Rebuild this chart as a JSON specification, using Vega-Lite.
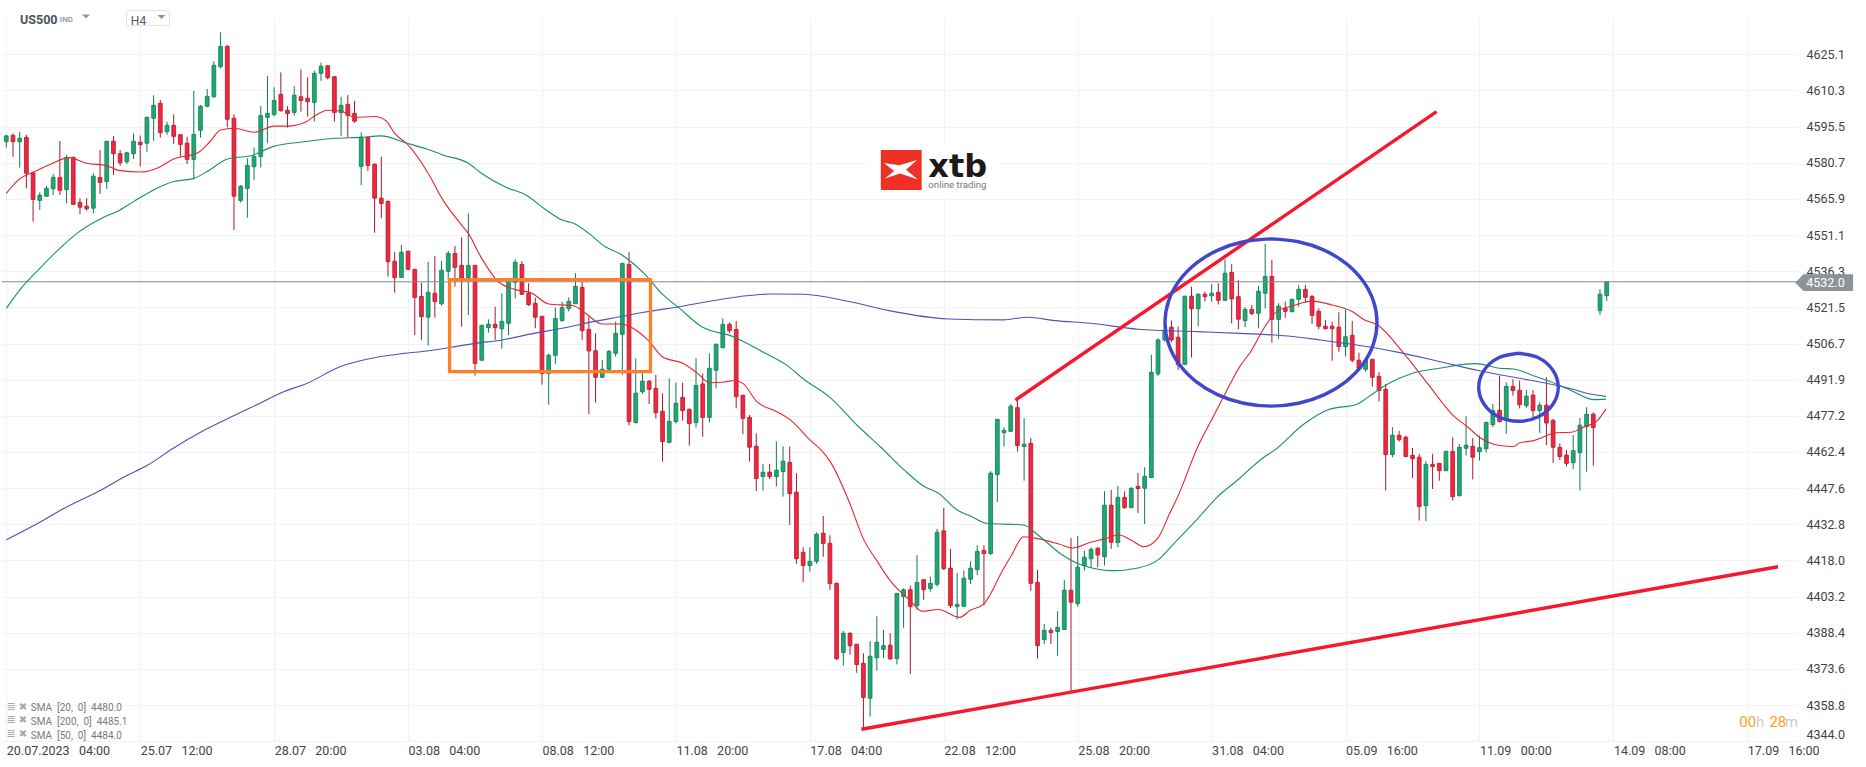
{
  "$schema": "https://vega.github.io/schema/vega-lite/v6.json",
  "width": 1796,
  "height": 723,
  "autosize": "none",
  "padding": {"left": 2, "top": 18, "right": 68, "bottom": 26},
  "background": "#ffffff",
  "config": {"font": "Roboto", "view": {"stroke": null}},
  "datasets": {
    "candles": [
      {"i":0,"o":4589.3,"h":4592.1,"l":4586.9,"c":4591.7},{"i":1,"o":4591.9,"h":4592.7,"l":4583.2,"c":4589.3},{"i":2,"o":4589.3,"h":4593.3,"l":4578.7,"c":4590.7},{"i":3,"o":4591.1,"h":4592.1,"l":4570.2,"c":4576.4},
      {"i":4,"o":4576.5,"h":4577.1,"l":4556.6,"c":4565.7},{"i":5,"o":4565.3,"h":4568.6,"l":4561.4,"c":4567.4},{"i":6,"o":4567.0,"h":4571.2,"l":4566.8,"c":4570.2},{"i":7,"o":4570.1,"h":4576.1,"l":4567.5,"c":4574.7},
      {"i":8,"o":4574.7,"h":4589.6,"l":4567.5,"c":4569.4},{"i":9,"o":4569.7,"h":4583.9,"l":4564.1,"c":4582.9},{"i":10,"o":4582.9,"h":4583.2,"l":4563.4,"c":4563.7},{"i":11,"o":4564.5,"h":4566.2,"l":4559.7,"c":4562.5},
      {"i":12,"o":4562.9,"h":4566.2,"l":4561.1,"c":4561.9},{"i":13,"o":4562.1,"h":4576.4,"l":4560.0,"c":4575.2},{"i":14,"o":4574.7,"h":4585.9,"l":4567.9,"c":4572.7},{"i":15,"o":4573.0,"h":4589.6,"l":4570.0,"c":4589.5},
      {"i":16,"o":4589.5,"h":4591.7,"l":4575.7,"c":4584.4},{"i":17,"o":4584.4,"h":4585.9,"l":4579.4,"c":4580.7},{"i":18,"o":4581.1,"h":4585.2,"l":4580.2,"c":4584.8},{"i":19,"o":4584.4,"h":4592.7,"l":4582.2,"c":4589.5},
      {"i":20,"o":4589.1,"h":4591.8,"l":4579.1,"c":4588.1},{"i":21,"o":4588.7,"h":4599.6,"l":4585.2,"c":4599.3},{"i":22,"o":4598.9,"h":4608.3,"l":4589.7,"c":4604.2},{"i":23,"o":4605.0,"h":4606.4,"l":4591.0,"c":4593.0},
      {"i":24,"o":4593.4,"h":4597.5,"l":4592.1,"c":4596.0},{"i":25,"o":4596.0,"h":4600.5,"l":4588.4,"c":4591.5},{"i":26,"o":4592.2,"h":4592.3,"l":4583.2,"c":4588.2},{"i":27,"o":4588.7,"h":4591.4,"l":4580.2,"c":4582.1},
      {"i":28,"o":4582.1,"h":4610.1,"l":4573.9,"c":4592.3},{"i":29,"o":4594.0,"h":4604.3,"l":4591.0,"c":4603.8},{"i":30,"o":4603.8,"h":4610.9,"l":4603.4,"c":4607.9},{"i":31,"o":4607.7,"h":4622.3,"l":4607.3,"c":4620.6},
      {"i":32,"o":4620.0,"h":4634.1,"l":4619.3,"c":4628.3},{"i":33,"o":4628.3,"h":4628.9,"l":4595.2,"c":4598.5},{"i":34,"o":4598.9,"h":4600.5,"l":4553.2,"c":4567.0},{"i":35,"o":4565.3,"h":4571.6,"l":4564.4,"c":4571.1},
      {"i":36,"o":4570.2,"h":4582.5,"l":4558.2,"c":4579.6},{"i":37,"o":4579.1,"h":4586.9,"l":4573.6,"c":4583.3},{"i":38,"o":4583.3,"h":4603.9,"l":4578.7,"c":4600.0},{"i":39,"o":4599.3,"h":4616.2,"l":4588.7,"c":4600.9},
      {"i":40,"o":4600.4,"h":4611.6,"l":4599.6,"c":4606.2},{"i":41,"o":4608.7,"h":4617.7,"l":4601.6,"c":4602.0},{"i":42,"o":4602.2,"h":4603.9,"l":4595.1,"c":4600.8},{"i":43,"o":4601.3,"h":4612.1,"l":4600.0,"c":4608.3},
      {"i":44,"o":4607.7,"h":4618.9,"l":4601.6,"c":4606.2},{"i":45,"o":4607.1,"h":4615.7,"l":4599.6,"c":4605.7},{"i":46,"o":4605.4,"h":4618.4,"l":4597.5,"c":4617.3},{"i":47,"o":4617.3,"h":4621.7,"l":4614.2,"c":4620.2},
      {"i":48,"o":4620.4,"h":4620.6,"l":4614.8,"c":4615.5},{"i":49,"o":4615.9,"h":4616.2,"l":4597.5,"c":4601.3},{"i":50,"o":4601.2,"h":4607.7,"l":4591.7,"c":4604.2},{"i":51,"o":4604.6,"h":4608.4,"l":4591.0,"c":4600.1},
      {"i":52,"o":4600.9,"h":4606.0,"l":4597.1,"c":4597.7},{"i":53,"o":4579.2,"h":4593.2,"l":4571.6,"c":4591.2},{"i":54,"o":4591.1,"h":4591.4,"l":4577.3,"c":4579.6},{"i":55,"o":4580.1,"h":4580.5,"l":4552.1,"c":4566.2},
      {"i":56,"o":4566.2,"h":4583.2,"l":4558.0,"c":4564.0},{"i":57,"o":4564.9,"h":4565.3,"l":4534.1,"c":4540.2},{"i":58,"o":4540.4,"h":4544.3,"l":4527.5,"c":4533.7},{"i":59,"o":4533.8,"h":4547.1,"l":4533.7,"c":4544.1},
      {"i":60,"o":4544.5,"h":4544.7,"l":4536.8,"c":4537.1},{"i":61,"o":4537.0,"h":4537.5,"l":4510.2,"c":4525.6},{"i":62,"o":4526.0,"h":4531.6,"l":4508.2,"c":4517.7},{"i":63,"o":4517.5,"h":4540.2,"l":4505.9,"c":4527.7},
      {"i":64,"o":4527.3,"h":4542.5,"l":4517.3,"c":4523.9},{"i":65,"o":4523.0,"h":4540.5,"l":4522.2,"c":4536.7},{"i":66,"o":4536.3,"h":4544.6,"l":4532.7,"c":4543.6},{"i":67,"o":4543.6,"h":4546.6,"l":4530.0,"c":4537.9},
      {"i":68,"o":4538.7,"h":4550.2,"l":4513.6,"c":4533.4},{"i":69,"o":4533.7,"h":4560.0,"l":4518.4,"c":4538.7},{"i":70,"o":4538.7,"h":4539.0,"l":4493.6,"c":4498.6},{"i":71,"o":4499.9,"h":4514.3,"l":4499.7,"c":4514.2},
      {"i":72,"o":4513.2,"h":4516.6,"l":4511.2,"c":4514.6},{"i":73,"o":4514.6,"h":4521.8,"l":4508.2,"c":4513.2},{"i":74,"o":4512.8,"h":4527.3,"l":4504.6,"c":4515.8},{"i":75,"o":4515.0,"h":4532.0,"l":4510.2,"c":4532.0},
      {"i":76,"o":4531.8,"h":4541.3,"l":4525.2,"c":4540.0},{"i":77,"o":4539.1,"h":4540.5,"l":4526.6,"c":4526.9},{"i":78,"o":4527.3,"h":4531.4,"l":4522.1,"c":4522.6},{"i":79,"o":4523.2,"h":4525.5,"l":4513.0,"c":4517.5},
      {"i":80,"o":4517.9,"h":4518.0,"l":4489.9,"c":4494.5},{"i":81,"o":4494.5,"h":4502.7,"l":4481.7,"c":4501.9},{"i":82,"o":4501.9,"h":4521.5,"l":4498.4,"c":4517.0},{"i":83,"o":4516.1,"h":4523.9,"l":4515.7,"c":4521.4},
      {"i":84,"o":4521.0,"h":4525.6,"l":4519.8,"c":4524.0},{"i":85,"o":4523.0,"h":4535.5,"l":4522.9,"c":4530.1},{"i":86,"o":4529.7,"h":4532.0,"l":4508.2,"c":4512.0},{"i":87,"o":4512.5,"h":4517.7,"l":4477.9,"c":4503.7},
      {"i":88,"o":4503.8,"h":4510.9,"l":4482.5,"c":4492.9},{"i":89,"o":4492.9,"h":4500.0,"l":4492.8,"c":4496.2},{"i":90,"o":4496.2,"h":4504.1,"l":4495.9,"c":4503.5},{"i":91,"o":4502.7,"h":4515.7,"l":4501.4,"c":4510.9},
      {"i":92,"o":4510.5,"h":4539.8,"l":4493.9,"c":4539.5},{"i":93,"o":4539.1,"h":4544.1,"l":4473.2,"c":4474.8},{"i":94,"o":4474.4,"h":4500.7,"l":4474.0,"c":4486.4},{"i":95,"o":4487.0,"h":4495.2,"l":4486.1,"c":4491.3},
      {"i":96,"o":4491.3,"h":4491.8,"l":4482.0,"c":4488.0},{"i":97,"o":4488.4,"h":4493.9,"l":4476.1,"c":4478.4},{"i":98,"o":4479.0,"h":4486.4,"l":4458.4,"c":4466.6},{"i":99,"o":4466.3,"h":4492.5,"l":4465.9,"c":4474.9},
      {"i":100,"o":4474.8,"h":4490.7,"l":4474.0,"c":4482.3},{"i":101,"o":4484.7,"h":4490.7,"l":4475.2,"c":4479.3},{"i":102,"o":4479.8,"h":4480.2,"l":4465.0,"c":4474.0},{"i":103,"o":4474.4,"h":4500.7,"l":4472.3,"c":4489.6},
      {"i":104,"o":4490.2,"h":4494.5,"l":4468.6,"c":4476.5},{"i":105,"o":4476.5,"h":4502.7,"l":4474.4,"c":4496.6},{"i":106,"o":4495.8,"h":4506.8,"l":4488.4,"c":4506.4},{"i":107,"o":4505.0,"h":4517.0,"l":4504.8,"c":4514.6},
      {"i":108,"o":4514.6,"h":4515.3,"l":4510.9,"c":4512.0},{"i":109,"o":4512.5,"h":4516.0,"l":4480.2,"c":4485.0},{"i":110,"o":4485.6,"h":4485.7,"l":4469.6,"c":4476.1},{"i":111,"o":4476.5,"h":4477.5,"l":4458.4,"c":4464.3},
      {"i":112,"o":4464.7,"h":4470.0,"l":4446.4,"c":4451.5},{"i":113,"o":4452.3,"h":4457.5,"l":4446.6,"c":4454.1},{"i":114,"o":4454.1,"h":4457.5,"l":4451.3,"c":4452.3},{"i":115,"o":4452.3,"h":4466.7,"l":4448.2,"c":4454.9},
      {"i":116,"o":4454.3,"h":4464.7,"l":4444.1,"c":4458.6},{"i":117,"o":4458.1,"h":4464.7,"l":4432.5,"c":4445.3},{"i":118,"o":4445.9,"h":4453.7,"l":4416.6,"c":4418.7},{"i":119,"o":4421.3,"h":4423.4,"l":4409.2,"c":4415.9},
      {"i":120,"o":4415.9,"h":4423.4,"l":4413.4,"c":4417.6},{"i":121,"o":4417.6,"h":4429.5,"l":4416.6,"c":4428.7},{"i":122,"o":4429.1,"h":4436.2,"l":4419.5,"c":4424.9},{"i":123,"o":4425.0,"h":4428.3,"l":4405.9,"c":4408.5},
      {"i":124,"o":4408.6,"h":4409.0,"l":4377.3,"c":4377.7},{"i":125,"o":4380.3,"h":4389.1,"l":4375.0,"c":4388.2},{"i":126,"o":4388.2,"h":4388.6,"l":4379.4,"c":4383.1},{"i":127,"o":4383.7,"h":4383.8,"l":4372.0,"c":4375.4},
      {"i":128,"o":4375.9,"h":4380.0,"l":4349.7,"c":4361.9},{"i":129,"o":4361.6,"h":4385.0,"l":4354.1,"c":4378.8},{"i":130,"o":4378.2,"h":4395.1,"l":4372.9,"c":4384.5},{"i":131,"o":4381.6,"h":4389.5,"l":4378.1,"c":4383.1},
      {"i":132,"o":4383.3,"h":4388.2,"l":4377.4,"c":4377.7},{"i":133,"o":4377.8,"h":4404.7,"l":4375.4,"c":4404.5},{"i":134,"o":4403.2,"h":4406.6,"l":4390.4,"c":4406.0},{"i":135,"o":4406.0,"h":4407.7,"l":4371.5,"c":4399.1},
      {"i":136,"o":4399.5,"h":4420.2,"l":4397.7,"c":4409.0},{"i":137,"o":4410.1,"h":4410.3,"l":4401.8,"c":4406.0},{"i":138,"o":4406.5,"h":4411.4,"l":4405.2,"c":4408.6},{"i":139,"o":4408.2,"h":4430.9,"l":4407.3,"c":4429.5},
      {"i":140,"o":4430.1,"h":4439.5,"l":4414.1,"c":4414.6},{"i":141,"o":4414.8,"h":4422.7,"l":4398.5,"c":4399.5},{"i":142,"o":4399.1,"h":4412.9,"l":4393.8,"c":4400.0},{"i":143,"o":4399.2,"h":4413.8,"l":4399.1,"c":4410.7},
      {"i":144,"o":4410.3,"h":4417.6,"l":4408.4,"c":4414.8},{"i":145,"o":4414.2,"h":4424.2,"l":4412.0,"c":4421.6},{"i":146,"o":4422.1,"h":4424.2,"l":4399.5,"c":4420.8},{"i":147,"o":4420.8,"h":4454.5,"l":4420.2,"c":4453.7},
      {"i":148,"o":4453.1,"h":4475.9,"l":4441.9,"c":4475.7},{"i":149,"o":4470.3,"h":4472.5,"l":4464.6,"c":4471.2},{"i":150,"o":4470.8,"h":4482.0,"l":4470.7,"c":4481.1},{"i":151,"o":4480.5,"h":4483.8,"l":4462.5,"c":4465.0},
      {"i":152,"o":4464.6,"h":4476.2,"l":4450.6,"c":4465.5},{"i":153,"o":4465.9,"h":4468.1,"l":4405.6,"c":4408.6},{"i":154,"o":4409.0,"h":4414.1,"l":4377.8,"c":4383.1},{"i":155,"o":4385.6,"h":4392.0,"l":4383.8,"c":4389.4},
      {"i":156,"o":4389.4,"h":4390.4,"l":4383.8,"c":4388.5},{"i":157,"o":4388.9,"h":4397.2,"l":4379.0,"c":4390.6},{"i":158,"o":4389.7,"h":4410.0,"l":4389.5,"c":4405.8},{"i":159,"o":4405.8,"h":4427.2,"l":4364.0,"c":4400.9},
      {"i":160,"o":4400.3,"h":4427.9,"l":4399.1,"c":4415.2},{"i":161,"o":4415.9,"h":4422.0,"l":4413.8,"c":4419.3},{"i":162,"o":4418.7,"h":4423.4,"l":4414.9,"c":4422.5},{"i":163,"o":4423.0,"h":4423.4,"l":4415.2,"c":4420.2},
      {"i":164,"o":4419.5,"h":4446.3,"l":4415.9,"c":4440.6},{"i":165,"o":4440.6,"h":4446.8,"l":4422.7,"c":4425.4},{"i":166,"o":4425.3,"h":4448.5,"l":4423.4,"c":4443.8},{"i":167,"o":4443.8,"h":4446.3,"l":4439.1,"c":4439.6},
      {"i":168,"o":4439.6,"h":4447.9,"l":4439.3,"c":4447.5},{"i":169,"o":4448.3,"h":4453.8,"l":4437.4,"c":4447.4},{"i":170,"o":4447.5,"h":4456.1,"l":4432.9,"c":4452.4},{"i":171,"o":4451.9,"h":4502.1,"l":4451.7,"c":4495.0},
      {"i":172,"o":4494.3,"h":4508.9,"l":4493.5,"c":4508.2},{"i":173,"o":4508.2,"h":4513.7,"l":4507.5,"c":4512.3},{"i":174,"o":4513.4,"h":4516.1,"l":4507.2,"c":4508.2},{"i":175,"o":4509.3,"h":4513.7,"l":4495.9,"c":4498.0},
      {"i":176,"o":4498.2,"h":4526.3,"l":4498.0,"c":4526.1},{"i":177,"o":4526.1,"h":4530.0,"l":4501.0,"c":4521.0},{"i":178,"o":4521.0,"h":4527.3,"l":4513.7,"c":4526.9},{"i":179,"o":4526.9,"h":4528.0,"l":4523.9,"c":4525.9},
      {"i":180,"o":4526.3,"h":4531.0,"l":4523.9,"c":4527.3},{"i":181,"o":4527.7,"h":4531.4,"l":4522.7,"c":4524.4},{"i":182,"o":4524.4,"h":4541.2,"l":4524.2,"c":4535.5},{"i":183,"o":4535.8,"h":4539.2,"l":4515.0,"c":4525.0},
      {"i":184,"o":4525.9,"h":4532.8,"l":4512.6,"c":4516.7},{"i":185,"o":4516.1,"h":4521.5,"l":4513.4,"c":4520.7},{"i":186,"o":4520.7,"h":4522.5,"l":4518.4,"c":4519.0},{"i":187,"o":4519.1,"h":4530.3,"l":4513.0,"c":4528.1},
      {"i":188,"o":4527.3,"h":4547.5,"l":4521.1,"c":4534.2},{"i":189,"o":4534.2,"h":4540.9,"l":4507.1,"c":4516.6},{"i":190,"o":4516.6,"h":4523.2,"l":4508.7,"c":4522.0},{"i":191,"o":4521.1,"h":4523.9,"l":4517.3,"c":4519.9},
      {"i":192,"o":4519.8,"h":4525.2,"l":4519.4,"c":4524.8},{"i":193,"o":4524.8,"h":4530.7,"l":4521.8,"c":4528.9},{"i":194,"o":4528.9,"h":4530.7,"l":4523.5,"c":4525.6},{"i":195,"o":4526.0,"h":4526.6,"l":4514.7,"c":4518.3},
      {"i":196,"o":4519.9,"h":4521.1,"l":4512.5,"c":4513.8},{"i":197,"o":4513.8,"h":4516.4,"l":4512.5,"c":4512.8},{"i":198,"o":4513.8,"h":4515.7,"l":4499.7,"c":4512.8},{"i":199,"o":4513.4,"h":4519.5,"l":4503.4,"c":4505.5},
      {"i":200,"o":4505.5,"h":4520.5,"l":4501.4,"c":4509.5},{"i":201,"o":4510.1,"h":4516.0,"l":4499.0,"c":4499.9},{"i":202,"o":4499.9,"h":4503.0,"l":4495.9,"c":4496.6},{"i":203,"o":4496.2,"h":4500.7,"l":4495.2,"c":4499.9},
      {"i":204,"o":4500.3,"h":4500.3,"l":4489.1,"c":4492.9},{"i":205,"o":4493.3,"h":4495.0,"l":4483.0,"c":4487.5},{"i":206,"o":4488.0,"h":4490.2,"l":4446.6,"c":4461.3},{"i":207,"o":4461.3,"h":4472.5,"l":4460.2,"c":4469.2},
      {"i":208,"o":4469.2,"h":4471.0,"l":4466.6,"c":4467.4},{"i":209,"o":4468.4,"h":4469.1,"l":4460.2,"c":4460.5},{"i":210,"o":4461.0,"h":4464.0,"l":4451.7,"c":4459.6},{"i":211,"o":4460.2,"h":4461.6,"l":4434.3,"c":4440.0},
      {"i":212,"o":4440.4,"h":4458.6,"l":4434.0,"c":4457.3},{"i":213,"o":4457.3,"h":4461.6,"l":4447.2,"c":4456.4},{"i":214,"o":4457.7,"h":4457.7,"l":4450.6,"c":4454.7},{"i":215,"o":4454.7,"h":4462.9,"l":4454.5,"c":4462.6},
      {"i":216,"o":4462.6,"h":4468.4,"l":4442.5,"c":4444.1},{"i":217,"o":4444.5,"h":4465.6,"l":4444.1,"c":4464.3},{"i":218,"o":4463.9,"h":4477.0,"l":4460.9,"c":4465.1},{"i":219,"o":4464.7,"h":4468.1,"l":4451.1,"c":4460.2},
      {"i":220,"o":4462.5,"h":4469.1,"l":4458.8,"c":4464.1},{"i":221,"o":4463.7,"h":4474.5,"l":4462.2,"c":4474.5},{"i":222,"o":4473.6,"h":4482.0,"l":4472.5,"c":4479.3},{"i":223,"o":4479.4,"h":4493.5,"l":4474.5,"c":4474.8},
      {"i":224,"o":4475.5,"h":4490.9,"l":4469.7,"c":4489.2},{"i":225,"o":4489.2,"h":4492.1,"l":4485.4,"c":4487.5},{"i":226,"o":4487.6,"h":4491.6,"l":4480.2,"c":4481.7},{"i":227,"o":4481.3,"h":4487.7,"l":4480.4,"c":4485.2},
      {"i":228,"o":4485.6,"h":4487.7,"l":4475.9,"c":4479.3},{"i":229,"o":4479.3,"h":4482.7,"l":4470.2,"c":4481.5},{"i":230,"o":4481.5,"h":4492.9,"l":4465.2,"c":4474.2},{"i":231,"o":4475.3,"h":4475.9,"l":4457.9,"c":4464.3},
      {"i":232,"o":4464.3,"h":4465.9,"l":4459.1,"c":4460.5},{"i":233,"o":4461.1,"h":4463.2,"l":4456.4,"c":4457.7},{"i":234,"o":4458.0,"h":4469.3,"l":4455.4,"c":4462.9},{"i":235,"o":4462.1,"h":4476.3,"l":4446.6,"c":4473.3},
      {"i":236,"o":4472.7,"h":4480.7,"l":4454.3,"c":4477.8},{"i":237,"o":4477.8,"h":4478.6,"l":4456.8,"c":4472.3},{"i":238,"o":4520.2,"h":4528.9,"l":4518.4,"c":4526.9},{"i":239,"o":4526.3,"h":4532.3,"l":4524.1,"c":4532.0}
    ],
    "sma": [
      {"s":"SMA 20","i":0,"v":4568.2},{"s":"SMA 20","i":2,"v":4574.1},{"s":"SMA 20","i":4,"v":4576.8},{"s":"SMA 20","i":6.7,"v":4580.2},{"s":"SMA 20","i":9.4,"v":4582.8},{"s":"SMA 20","i":12,"v":4580.5},{"s":"SMA 20","i":15,"v":4579.5},{"s":"SMA 20","i":16.8,"v":4577.6},{"s":"SMA 20","i":20,"v":4576.9},{"s":"SMA 20","i":22.7,"v":4578.7},{"s":"SMA 20","i":25,"v":4582.2},{"s":"SMA 20","i":28.6,"v":4584.8},{"s":"SMA 20","i":30.4,"v":4589.3},{"s":"SMA 20","i":32,"v":4594.1},{"s":"SMA 20","i":34,"v":4594.8},{"s":"SMA 20","i":37,"v":4593.2},{"s":"SMA 20","i":40,"v":4595.7},{"s":"SMA 20","i":42,"v":4595.7},{"s":"SMA 20","i":44.8,"v":4597.5},{"s":"SMA 20","i":46,"v":4599.8},{"s":"SMA 20","i":48,"v":4602.2},{"s":"SMA 20","i":50,"v":4601.9},{"s":"SMA 20","i":52,"v":4599.3},{"s":"SMA 20","i":55,"v":4599.6},{"s":"SMA 20","i":56.7,"v":4597.9},{"s":"SMA 20","i":58,"v":4592.7},{"s":"SMA 20","i":60,"v":4588.0},{"s":"SMA 20","i":63,"v":4576.4},{"s":"SMA 20","i":65.2,"v":4565.5},{"s":"SMA 20","i":68,"v":4555.2},{"s":"SMA 20","i":69,"v":4551.8},{"s":"SMA 20","i":70.8,"v":4542.5},{"s":"SMA 20","i":73.5,"v":4532.0},{"s":"SMA 20","i":75.8,"v":4529.0},{"s":"SMA 20","i":78.5,"v":4527.3},{"s":"SMA 20","i":81,"v":4522.9},{"s":"SMA 20","i":84.7,"v":4522.2},{"s":"SMA 20","i":86.5,"v":4519.1},{"s":"SMA 20","i":89,"v":4514.7},{"s":"SMA 20","i":91.7,"v":4514.7},{"s":"SMA 20","i":94,"v":4512.3},{"s":"SMA 20","i":95.8,"v":4508.2},{"s":"SMA 20","i":98.1,"v":4501.1},{"s":"SMA 20","i":101.1,"v":4498.6},{"s":"SMA 20","i":103.2,"v":4494.6},{"s":"SMA 20","i":105,"v":4490.7},{"s":"SMA 20","i":107,"v":4490.9},{"s":"SMA 20","i":108.8,"v":4491.6},{"s":"SMA 20","i":110.1,"v":4490.2},{"s":"SMA 20","i":112,"v":4483.2},{"s":"SMA 20","i":115,"v":4478.9},{"s":"SMA 20","i":117,"v":4475.7},{"s":"SMA 20","i":120,"v":4467.3},{"s":"SMA 20","i":121.9,"v":4462.5},{"s":"SMA 20","i":123,"v":4458.6},{"s":"SMA 20","i":125.9,"v":4441.8},{"s":"SMA 20","i":128,"v":4426.8},{"s":"SMA 20","i":130,"v":4417.9},{"s":"SMA 20","i":132,"v":4409.7},{"s":"SMA 20","i":135,"v":4401.5},{"s":"SMA 20","i":136.8,"v":4397.2},{"s":"SMA 20","i":139.2,"v":4397.9},{"s":"SMA 20","i":142.4,"v":4394.7},{"s":"SMA 20","i":143.9,"v":4397.5},{"s":"SMA 20","i":146,"v":4400.2},{"s":"SMA 20","i":148.9,"v":4414.5},{"s":"SMA 20","i":150.1,"v":4420.0},{"s":"SMA 20","i":151.9,"v":4427.7},{"s":"SMA 20","i":154.2,"v":4426.8},{"s":"SMA 20","i":157.2,"v":4424.7},{"s":"SMA 20","i":159.3,"v":4423.1},{"s":"SMA 20","i":161.9,"v":4425.4},{"s":"SMA 20","i":164,"v":4426.8},{"s":"SMA 20","i":166.2,"v":4428.4},{"s":"SMA 20","i":168.1,"v":4426.1},{"s":"SMA 20","i":169.9,"v":4423.6},{"s":"SMA 20","i":172,"v":4427.2},{"s":"SMA 20","i":173.7,"v":4437.0},{"s":"SMA 20","i":174.9,"v":4443.8},{"s":"SMA 20","i":177.9,"v":4464.3},{"s":"SMA 20","i":180.2,"v":4476.6},{"s":"SMA 20","i":182,"v":4486.1},{"s":"SMA 20","i":184.2,"v":4497.3},{"s":"SMA 20","i":186,"v":4504.1},{"s":"SMA 20","i":187.8,"v":4513.0},{"s":"SMA 20","i":189.9,"v":4520.2},{"s":"SMA 20","i":192,"v":4522.1},{"s":"SMA 20","i":195,"v":4524.1},{"s":"SMA 20","i":198,"v":4522.5},{"s":"SMA 20","i":201,"v":4519.8},{"s":"SMA 20","i":202.7,"v":4516.6},{"s":"SMA 20","i":204.8,"v":4514.3},{"s":"SMA 20","i":208.7,"v":4502.7},{"s":"SMA 20","i":212.3,"v":4490.2},{"s":"SMA 20","i":214.6,"v":4482.0},{"s":"SMA 20","i":216.1,"v":4477.2},{"s":"SMA 20","i":218.2,"v":4472.7},{"s":"SMA 20","i":220,"v":4468.4},{"s":"SMA 20","i":223,"v":4465.0},{"s":"SMA 20","i":225.1,"v":4464.6},{"s":"SMA 20","i":226,"v":4466.1},{"s":"SMA 20","i":228.1,"v":4467.0},{"s":"SMA 20","i":230.1,"v":4469.1},{"s":"SMA 20","i":231.3,"v":4470.2},{"s":"SMA 20","i":233.7,"v":4470.4},{"s":"SMA 20","i":235.5,"v":4472.5},{"s":"SMA 20","i":237.6,"v":4475.2},{"s":"SMA 20","i":238.9,"v":4480.0},
      {"s":"SMA 50","i":0,"v":4521.1},{"s":"SMA 50","i":2,"v":4528.6},{"s":"SMA 50","i":5,"v":4537.5},{"s":"SMA 50","i":8,"v":4545.7},{"s":"SMA 50","i":10.9,"v":4552.5},{"s":"SMA 50","i":14.7,"v":4558.6},{"s":"SMA 50","i":16.8,"v":4561.1},{"s":"SMA 50","i":19,"v":4564.8},{"s":"SMA 50","i":22,"v":4569.6},{"s":"SMA 50","i":25,"v":4573.0},{"s":"SMA 50","i":28,"v":4574.3},{"s":"SMA 50","i":30,"v":4577.1},{"s":"SMA 50","i":33,"v":4582.2},{"s":"SMA 50","i":36.9,"v":4583.9},{"s":"SMA 50","i":39.8,"v":4587.3},{"s":"SMA 50","i":44.5,"v":4589.3},{"s":"SMA 50","i":49,"v":4590.7},{"s":"SMA 50","i":52.8,"v":4591.1},{"s":"SMA 50","i":56,"v":4591.7},{"s":"SMA 50","i":59.6,"v":4588.9},{"s":"SMA 50","i":62.8,"v":4586.3},{"s":"SMA 50","i":65.2,"v":4583.9},{"s":"SMA 50","i":69,"v":4580.5},{"s":"SMA 50","i":70.8,"v":4576.7},{"s":"SMA 50","i":74.7,"v":4570.6},{"s":"SMA 50","i":77.6,"v":4567.5},{"s":"SMA 50","i":80.6,"v":4561.4},{"s":"SMA 50","i":83,"v":4557.3},{"s":"SMA 50","i":84.7,"v":4555.9},{"s":"SMA 50","i":87,"v":4551.8},{"s":"SMA 50","i":89.4,"v":4546.4},{"s":"SMA 50","i":91.7,"v":4543.4},{"s":"SMA 50","i":95.2,"v":4535.5},{"s":"SMA 50","i":98.1,"v":4526.6},{"s":"SMA 50","i":100.5,"v":4521.2},{"s":"SMA 50","i":103.8,"v":4513.7},{"s":"SMA 50","i":108.5,"v":4509.6},{"s":"SMA 50","i":112.9,"v":4503.4},{"s":"SMA 50","i":116.7,"v":4497.6},{"s":"SMA 50","i":119.1,"v":4492.1},{"s":"SMA 50","i":123,"v":4484.7},{"s":"SMA 50","i":127.1,"v":4473.2},{"s":"SMA 50","i":130.6,"v":4464.3},{"s":"SMA 50","i":134.2,"v":4454.7},{"s":"SMA 50","i":137.1,"v":4448.2},{"s":"SMA 50","i":139.2,"v":4445.5},{"s":"SMA 50","i":142,"v":4438.6},{"s":"SMA 50","i":144.2,"v":4435.9},{"s":"SMA 50","i":146.3,"v":4433.2},{"s":"SMA 50","i":151.9,"v":4432.5},{"s":"SMA 50","i":154.2,"v":4428.1},{"s":"SMA 50","i":157.5,"v":4420.6},{"s":"SMA 50","i":160.1,"v":4416.6},{"s":"SMA 50","i":165.2,"v":4413.8},{"s":"SMA 50","i":169,"v":4414.9},{"s":"SMA 50","i":172,"v":4418.2},{"s":"SMA 50","i":174.3,"v":4424.7},{"s":"SMA 50","i":177.9,"v":4435.0},{"s":"SMA 50","i":180.8,"v":4443.8},{"s":"SMA 50","i":184.2,"v":4451.6},{"s":"SMA 50","i":186,"v":4456.1},{"s":"SMA 50","i":187.8,"v":4460.2},{"s":"SMA 50","i":189.3,"v":4462.9},{"s":"SMA 50","i":193.8,"v":4473.8},{"s":"SMA 50","i":197.4,"v":4479.6},{"s":"SMA 50","i":201.8,"v":4482.0},{"s":"SMA 50","i":203.3,"v":4484.7},{"s":"SMA 50","i":206.3,"v":4490.2},{"s":"SMA 50","i":209.9,"v":4494.5},{"s":"SMA 50","i":214,"v":4496.6},{"s":"SMA 50","i":219.4,"v":4498.5},{"s":"SMA 50","i":223,"v":4496.6},{"s":"SMA 50","i":225.1,"v":4496.3},{"s":"SMA 50","i":228.4,"v":4493.2},{"s":"SMA 50","i":231.3,"v":4490.4},{"s":"SMA 50","i":233.7,"v":4487.5},{"s":"SMA 50","i":237,"v":4483.8},{"s":"SMA 50","i":238.9,"v":4484.0},
      {"s":"SMA 200","i":0,"v":4426.4},{"s":"SMA 200","i":5,"v":4433.6},{"s":"SMA 200","i":8.5,"v":4439.1},{"s":"SMA 200","i":13.8,"v":4446.3},{"s":"SMA 200","i":18,"v":4452.7},{"s":"SMA 200","i":21,"v":4456.8},{"s":"SMA 200","i":25,"v":4464.0},{"s":"SMA 200","i":29,"v":4470.4},{"s":"SMA 200","i":32.7,"v":4475.5},{"s":"SMA 200","i":37.4,"v":4481.7},{"s":"SMA 200","i":41.6,"v":4487.2},{"s":"SMA 200","i":44.7,"v":4490.2},{"s":"SMA 200","i":49.9,"v":4497.3},{"s":"SMA 200","i":54,"v":4500.4},{"s":"SMA 200","i":59.3,"v":4502.7},{"s":"SMA 200","i":62.8,"v":4503.7},{"s":"SMA 200","i":66.4,"v":4505.2},{"s":"SMA 200","i":70,"v":4506.8},{"s":"SMA 200","i":74,"v":4508.2},{"s":"SMA 200","i":78.8,"v":4510.9},{"s":"SMA 200","i":83,"v":4513.0},{"s":"SMA 200","i":87.7,"v":4515.7},{"s":"SMA 200","i":91.7,"v":4517.7},{"s":"SMA 200","i":95.2,"v":4519.5},{"s":"SMA 200","i":100.5,"v":4521.8},{"s":"SMA 200","i":109.4,"v":4525.9},{"s":"SMA 200","i":114.1,"v":4527.0},{"s":"SMA 200","i":119.1,"v":4526.9},{"s":"SMA 200","i":125.9,"v":4523.9},{"s":"SMA 200","i":131.8,"v":4520.2},{"s":"SMA 200","i":140.7,"v":4516.8},{"s":"SMA 200","i":148.9,"v":4516.4},{"s":"SMA 200","i":152.5,"v":4517.5},{"s":"SMA 200","i":156.6,"v":4516.1},{"s":"SMA 200","i":161.9,"v":4515.0},{"s":"SMA 200","i":169,"v":4512.6},{"s":"SMA 200","i":177.9,"v":4511.6},{"s":"SMA 200","i":184.2,"v":4510.9},{"s":"SMA 200","i":191.4,"v":4509.8},{"s":"SMA 200","i":196.2,"v":4508.2},{"s":"SMA 200","i":203.9,"v":4505.2},{"s":"SMA 200","i":208.1,"v":4503.0},{"s":"SMA 200","i":213.5,"v":4499.7},{"s":"SMA 200","i":220,"v":4495.6},{"s":"SMA 200","i":226,"v":4492.5},{"s":"SMA 200","i":230.1,"v":4490.4},{"s":"SMA 200","i":233.7,"v":4488.2},{"s":"SMA 200","i":236,"v":4486.4},{"s":"SMA 200","i":238.9,"v":4485.1}
    ],
    "circles": [
      {"id":"a","n":0,"i":188.87,"v":4549.54},{"id":"a","n":1,"i":192.97,"v":4548.37},{"id":"a","n":2,"i":196.79,"v":4544.96},{"id":"a","n":3,"i":200.06,"v":4539.52},{"id":"a","n":4,"i":202.58,"v":4532.44},{"id":"a","n":5,"i":204.16,"v":4524.19},{"id":"a","n":6,"i":204.70,"v":4515.34},{"id":"a","n":7,"i":204.16,"v":4506.49},{"id":"a","n":8,"i":202.58,"v":4498.24},{"id":"a","n":9,"i":200.06,"v":4491.16},{"id":"a","n":10,"i":196.79,"v":4485.72},{"id":"a","n":11,"i":192.97,"v":4482.31},{"id":"a","n":12,"i":188.87,"v":4481.14},{"id":"a","n":13,"i":184.77,"v":4482.31},{"id":"a","n":14,"i":180.95,"v":4485.72},{"id":"a","n":15,"i":177.68,"v":4491.16},{"id":"a","n":16,"i":175.16,"v":4498.24},{"id":"a","n":17,"i":173.58,"v":4506.49},{"id":"a","n":18,"i":173.04,"v":4515.34},{"id":"a","n":19,"i":173.58,"v":4524.19},{"id":"a","n":20,"i":175.16,"v":4532.44},{"id":"a","n":21,"i":177.68,"v":4539.52},{"id":"a","n":22,"i":180.95,"v":4544.96},{"id":"a","n":23,"i":184.77,"v":4548.37},{"id":"a","n":24,"i":188.87,"v":4549.54},
      {"id":"b","n":0,"i":225.83,"v":4502.74},{"id":"b","n":1,"i":228.80,"v":4500.88},{"id":"b","n":2,"i":230.97,"v":4495.79},{"id":"b","n":3,"i":231.77,"v":4488.83},{"id":"b","n":4,"i":230.97,"v":4481.87},{"id":"b","n":5,"i":228.80,"v":4476.78},{"id":"b","n":6,"i":225.83,"v":4474.92},{"id":"b","n":7,"i":222.86,"v":4476.78},{"id":"b","n":8,"i":220.69,"v":4481.87},{"id":"b","n":9,"i":219.89,"v":4488.83},{"id":"b","n":10,"i":220.69,"v":4495.79},{"id":"b","n":11,"i":222.86,"v":4500.88},{"id":"b","n":12,"i":225.83,"v":4502.74}
    ],
    "trend": [
      {"id":"upper","i":150.7,"v":4483.6},{"id":"upper","i":213.6,"v":4601.6},
      {"id":"lower","i":127.7,"v":4348.9},{"id":"lower","i":264.6,"v":4415.4}
    ]
  },
  "encoding": {
    "x": {"field": "i", "type": "quantitative", "title": null,
      "scale": {"domain": [-0.642, 267.57], "nice": false, "zero": false, "padding": 0},
      "axis": {"values": [0,20,40,60,80,100,120,140,160,180,200,220,240,260], "grid": true, "gridColor": "#f1f2f4", "gridWidth": 1, "domain": false, "ticks": false,
        "labelAlign": "left", "labelPadding": 3, "labelFontSize": 12.5, "labelColor": "#3d4449", "labelOverlap": false, "labelBound": false, "labelFlush": false, "labelLimit": 0,
        "labelExpr": "['20.07.2023\u00a0\u00a0\u00a004:00','25.07\u00a0\u00a0\u00a012:00','28.07\u00a0\u00a0\u00a020:00','03.08\u00a0\u00a0\u00a004:00','08.08\u00a0\u00a0\u00a012:00','11.08\u00a0\u00a0\u00a020:00','17.08\u00a0\u00a0\u00a004:00','22.08\u00a0\u00a0\u00a012:00','25.08\u00a0\u00a0\u00a020:00','31.08\u00a0\u00a0\u00a004:00','05.09\u00a0\u00a0\u00a016:00','11.09\u00a0\u00a0\u00a000:00','14.09\u00a0\u00a0\u00a008:00','17.09\u00a0\u00a0\u00a016:00'][datum.value/20]"}},
    "y": {"field": "v", "type": "quantitative", "title": null,
      "scale": {"domain": [4344.1, 4639.93], "nice": false, "zero": false},
      "axis": {"orient": "right", "values": [4344.1,4358.8,4373.6,4388.4,4403.2,4418.0,4432.8,4447.6,4462.4,4477.2,4491.9,4506.7,4521.5,4536.3,4551.1,4565.9,4580.7,4595.5,4610.3,4625.1], "grid": true, "gridColor": "#f1f2f4", "gridWidth": 1, "domain": false, "ticks": false,
        "labelPadding": 8, "labelFontSize": 12.5, "labelColor": "#3d4449", "labelOverlap": false, "labelBound": false, "labelFlush": false, "labelLimit": 0, "labelAlign": "left",
        "labelBaseline": {"condition": {"test": "datum.value < 4345", "value": "bottom"}, "value": "middle"},
        "labelExpr": "datum.value < 4345 ? '4344.0' : format(datum.value, '.1f')"}}
  },
  "layer": [
    {"data": {"values": [{"i": 128.7, "i2": 148.1, "v": 4588.8, "v2": 4566.7}]},
     "mark": {"type": "rect", "fill": "#ffffff"},
     "encoding": {"x2": {"field": "i2"}, "y2": {"field": "v2"}}},
    {"data": {"values": [{"i": 130.6, "i2": 136.7, "v": 4585.9, "v2": 4569.6}]},
     "mark": {"type": "rect", "fill": "#ee3124"},
     "encoding": {"x2": {"field": "i2"}, "y2": {"field": "v2"}}},
    {"data": {"values": [{"i": 133.6, "v": 4577.7}]},
     "mark": {"type": "point", "filled": true, "fill": "#ffffff", "opacity": 1, "strokeWidth": 0, "size": 1156, "shape": "M-1,-0.42 L-0.1,-0.28 L0.95,-0.6 L0.3,-0.02 L1,0.55 L-0.05,0.2 L-0.95,0.5 L-0.4,0.05 Z"}},
    {"data": {"values": [{"i": 137.7, "v": 4574.9, "t": "xtb"}]},
     "mark": {"type": "text", "font": "DejaVu Sans", "fontWeight": "bold", "fontSize": 32, "align": "left", "baseline": "alphabetic", "fill": "#1f1a1a"},
     "encoding": {"text": {"field": "t"}}},
    {"data": {"values": [{"i": 137.7, "v": 4571.6, "t": "online trading"}]},
     "mark": {"type": "text", "fontSize": 9.6, "align": "left", "baseline": "middle", "fill": "#777777"},
     "encoding": {"text": {"field": "t"}}},
    {"data": {"name": "candles"},
     "mark": {"type": "rule", "strokeWidth": 1},
     "encoding": {
       "y": {"field": "l", "type": "quantitative", "title": null, "scale": {"domain": [4344.1, 4639.93], "nice": false, "zero": false},
         "axis": {"orient": "right", "values": [4344.1,4358.8,4373.6,4388.4,4403.2,4418.0,4432.8,4447.6,4462.4,4477.2,4491.9,4506.7,4521.5,4536.3,4551.1,4565.9,4580.7,4595.5,4610.3,4625.1], "grid": true, "gridColor": "#f1f2f4", "gridWidth": 1, "domain": false, "ticks": false,
           "labelPadding": 8, "labelFontSize": 12.5, "labelColor": "#3d4449", "labelOverlap": false, "labelBound": false, "labelFlush": false, "labelLimit": 0, "labelAlign": "left",
           "labelBaseline": {"condition": {"test": "datum.value < 4345", "value": "bottom"}, "value": "middle"},
           "labelExpr": "datum.value < 4345 ? '4344.0' : format(datum.value, '.1f')"}},
       "y2": {"field": "h"},
       "color": {"condition": {"test": "datum.c >= datum.o", "value": "#0e7a56"}, "value": "#a5182c"}}},
    {"data": {"name": "candles"},
     "mark": {"type": "bar", "size": 3.8, "strokeWidth": 0.8},
     "encoding": {
       "y": {"field": "o", "type": "quantitative", "title": null, "scale": {"domain": [4344.1, 4639.93], "nice": false, "zero": false},
         "axis": {"orient": "right", "values": [4344.1,4358.8,4373.6,4388.4,4403.2,4418.0,4432.8,4447.6,4462.4,4477.2,4491.9,4506.7,4521.5,4536.3,4551.1,4565.9,4580.7,4595.5,4610.3,4625.1], "grid": true, "gridColor": "#f1f2f4", "gridWidth": 1, "domain": false, "ticks": false,
           "labelPadding": 8, "labelFontSize": 12.5, "labelColor": "#3d4449", "labelOverlap": false, "labelBound": false, "labelFlush": false, "labelLimit": 0, "labelAlign": "left",
           "labelBaseline": {"condition": {"test": "datum.value < 4345", "value": "bottom"}, "value": "middle"},
           "labelExpr": "datum.value < 4345 ? '4344.0' : format(datum.value, '.1f')"}},
       "y2": {"field": "c"},
       "fill": {"condition": {"test": "datum.c >= datum.o", "value": "#1fa971"}, "value": "#f0283f"},
       "stroke": {"condition": {"test": "datum.c >= datum.o", "value": "#0e7a56"}, "value": "#b3182e"}}},
    {"data": {"values": [{"i": -0.64, "i2": 267.5, "v": 4532.0}]},
     "mark": {"type": "rule", "color": "#7d8a8f", "strokeWidth": 1},
     "encoding": {"x2": {"field": "i2"}}},
    {"data": {"name": "sma"},
     "mark": {"type": "line", "strokeWidth": 1.1, "interpolate": "monotone"},
     "encoding": {"color": {"field": "s", "type": "nominal", "legend": null, "scale": {"domain": ["SMA 20", "SMA 50", "SMA 200"], "range": ["#e8262f", "#1c8f6a", "#4a55b8"]}}}},
    {"data": {"values": [{"i": 66.2, "i2": 96.2, "v": 4532.9, "v2": 4495.2}]},
     "mark": {"type": "rect", "fill": null, "stroke": "#ff7f27", "strokeWidth": 3.3},
     "encoding": {"x2": {"field": "i2"}, "y2": {"field": "v2"}}},
    {"data": {"name": "trend"},
     "mark": {"type": "line", "color": "#f7182e", "strokeWidth": 3.4},
     "encoding": {"detail": {"field": "id"}}},
    {"data": {"name": "circles"},
     "mark": {"type": "line", "color": "#3f48cc", "strokeWidth": 3.4, "interpolate": "cardinal"},
     "encoding": {"detail": {"field": "id"}, "order": {"field": "n"}}},
    {"data": {"values": [{"i": 268.3, "i2": 275.8, "v": 4535.1, "v2": 4528.2}]},
     "mark": {"type": "rect", "fill": "#8a9499"},
     "encoding": {"x2": {"field": "i2"}, "y2": {"field": "v2"}}},
    {"data": {"values": [{"i": 268.4, "v": 4531.65}]},
     "mark": {"type": "point", "filled": true, "fill": "#8a9499", "opacity": 1, "strokeWidth": 0, "size": 279, "shape": "M0,-1 L0,1 L-1,0 Z"}},
    {"data": {"values": [{"i": 268.8, "v": 4531.6, "t": "4532.0"}]},
     "mark": {"type": "text", "fontSize": 12.5, "align": "left", "baseline": "middle", "fill": "#ffffff"},
     "encoding": {"text": {"field": "t"}}},
    {"data": {"values": [{"i": 2.05, "v": 4639.3, "t": "US500"}]},
     "mark": {"type": "text", "fontSize": 12.5, "fontWeight": "bold", "align": "left", "baseline": "middle", "fill": "#4a545b"},
     "encoding": {"text": {"field": "t"}}},
    {"data": {"values": [{"i": 8.0, "v": 4639.3, "t": "IND"}]},
     "mark": {"type": "text", "fontSize": 8, "fontWeight": "bold", "align": "left", "baseline": "middle", "fill": "#9aa0a6"},
     "encoding": {"text": {"field": "t"}}},
    {"data": {"values": [{"i": 17.95, "i2": 24.37, "v": 4642.9, "v2": 4636.9}]},
     "mark": {"type": "rect", "fill": "#ffffff", "stroke": "#dfe2e5", "strokeWidth": 1, "cornerRadius": 2},
     "encoding": {"x2": {"field": "i2"}, "y2": {"field": "v2"}}},
    {"data": {"values": [{"i": 18.6, "v": 4638.9, "t": "H4"}]},
     "mark": {"type": "text", "fontSize": 12, "align": "left", "baseline": "middle", "fill": "#555b60"},
     "encoding": {"text": {"field": "t"}}},
    {"data": {"values": [{"i": 11.9, "v": 4640.5}, {"i": 23.18, "v": 4640.3}]},
     "mark": {"type": "point", "filled": true, "fill": "#8d9499", "opacity": 1, "strokeWidth": 0, "size": 64, "shape": "M-1,-0.5 L1,-0.5 L0,0.5 Z"}},
    {"data": {"values": [{"i": 3.66, "v": 4357.6, "t": "SMA\u00a0\u00a0[20,\u00a0\u00a00]\u00a0\u00a04480.0"}, {"i": 3.66, "v": 4352.0, "t": "SMA\u00a0\u00a0[200,\u00a0\u00a00]\u00a0\u00a04485.1"}, {"i": 3.66, "v": 4346.3, "t": "SMA\u00a0\u00a0[50,\u00a0\u00a00]\u00a0\u00a04484.0"}]},
     "mark": {"type": "text", "fontSize": 10, "align": "left", "baseline": "middle", "fill": "#7a7a7a"},
     "encoding": {"text": {"field": "t"}}},
    {"data": {"values": [{"i": 0.7, "v": 4358.1}, {"i": 0.7, "v": 4352.5}, {"i": 0.7, "v": 4346.8}]},
     "mark": {"type": "text", "font": "DejaVu Sans", "fontSize": 11, "align": "center", "baseline": "middle", "fill": "#aaaaaa", "text": "\u2263"}},
    {"data": {"values": [{"i": 2.5, "v": 4358.1}, {"i": 2.5, "v": 4352.5}, {"i": 2.5, "v": 4346.8}]},
     "mark": {"type": "text", "font": "DejaVu Sans", "fontSize": 10, "align": "center", "baseline": "middle", "fill": "#aaaaaa", "text": "\u2716"}},
    {"data": {"values": [{"i": 258.8, "v": 4351.9, "t": "00"}, {"i": 263.3, "v": 4351.9, "t": "28"}]},
     "mark": {"type": "text", "fontSize": 15, "align": "left", "baseline": "middle", "fill": "#ff9f1c"},
     "encoding": {"text": {"field": "t"}}},
    {"data": {"values": [{"i": 261.3, "v": 4351.9, "t": "h"}, {"i": 265.6, "v": 4351.9, "t": "m"}]},
     "mark": {"type": "text", "fontSize": 15, "align": "left", "baseline": "middle", "fill": "#c9cccf"},
     "encoding": {"text": {"field": "t"}}}
  ]
}
